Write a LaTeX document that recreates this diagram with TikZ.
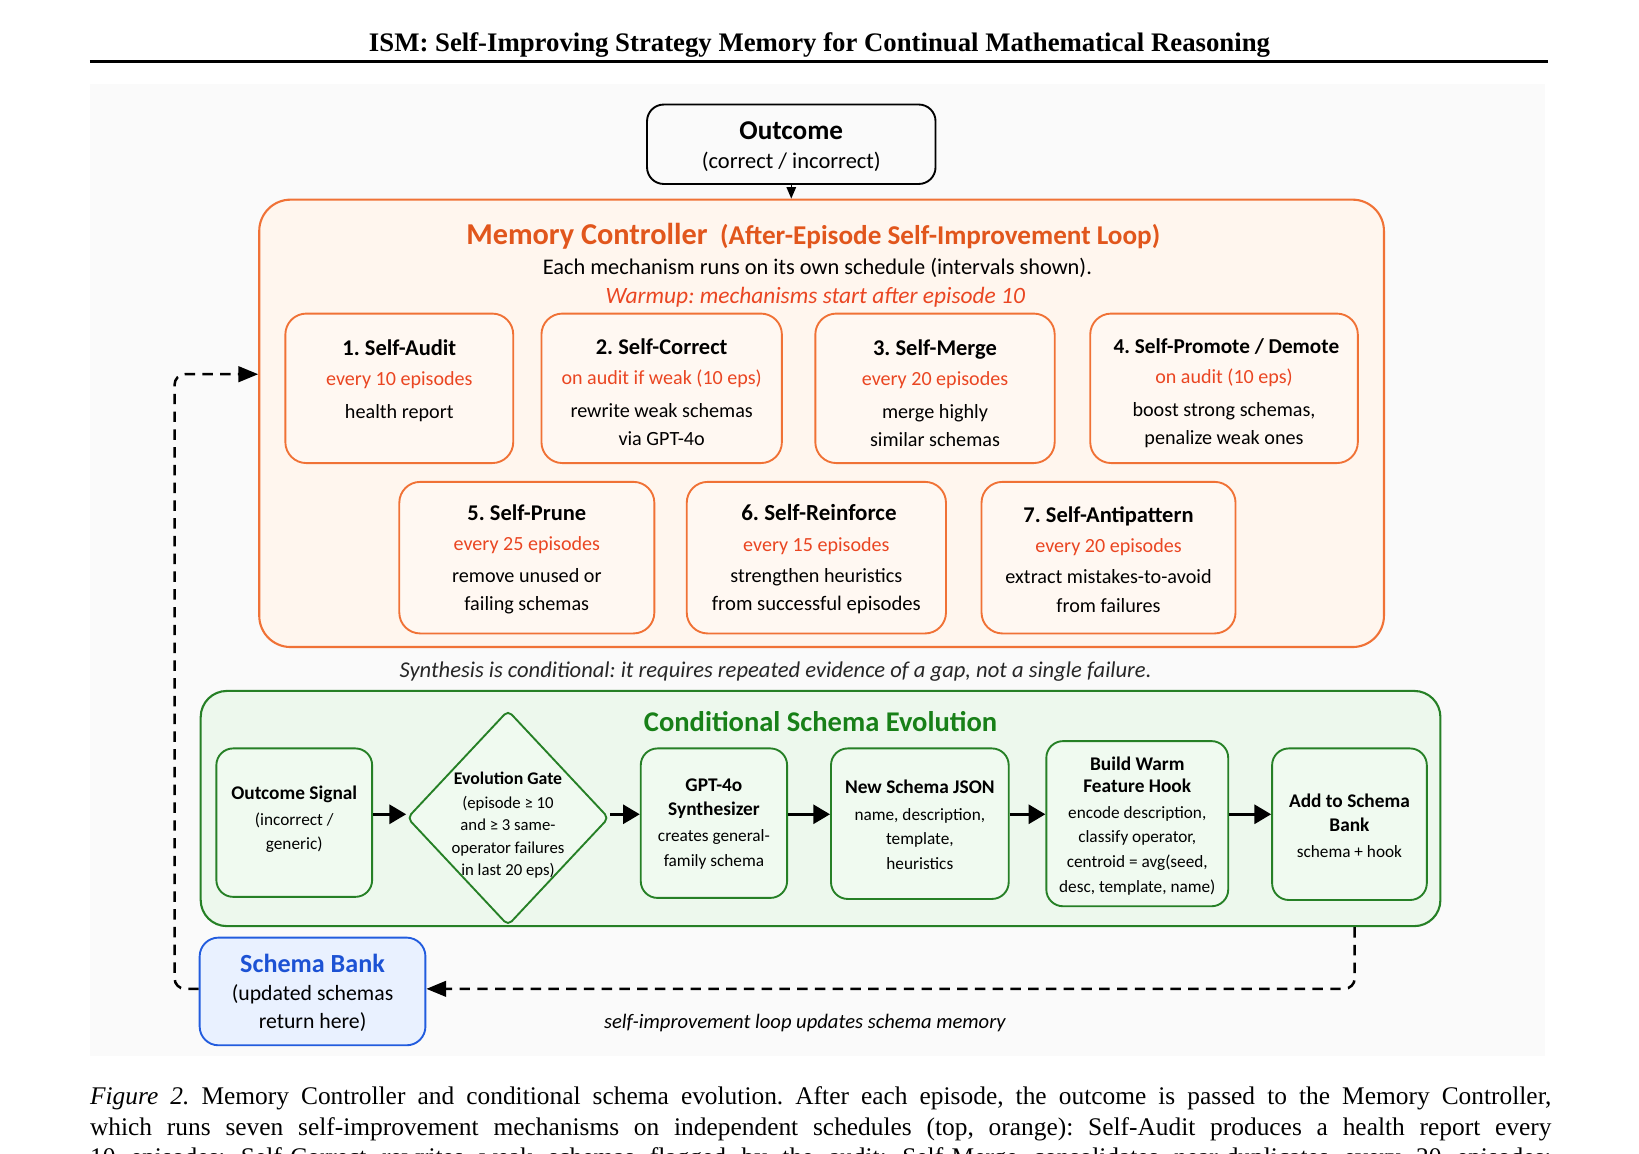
\documentclass[tikz,border=0pt]{standalone}
\usepackage{fontspec}
\setmainfont{Liberation Serif}
\newfontfamily\carl{Carlito}
\usetikzlibrary{shapes.geometric,arrows.meta}
\definecolor{obrd}{RGB}{240,114,54}
\definecolor{ofill}{RGB}{255,246,238}
\definecolor{ofill2}{RGB}{255,248,242}
\definecolor{otitle}{RGB}{225,86,28}
\definecolor{osched}{RGB}{234,70,34}
\definecolor{gbrd}{RGB}{38,128,38}
\definecolor{gfill}{RGB}{237,248,237}
\definecolor{gfill2}{RGB}{240,250,240}
\definecolor{gtitle}{RGB}{24,128,24}
\definecolor{bbrd}{RGB}{34,92,222}
\definecolor{bfill}{RGB}{233,241,255}
\definecolor{btitle}{RGB}{28,82,212}
\definecolor{pagebg}{RGB}{250,250,250}
\definecolor{outfill}{RGB}{250,250,250}
\newcommand\fsz[2]{\fontsize{#1}{#2}\selectfont}
\newcommand\mttl{\carl\bfseries\fsz{21.5}{27}}
\newcommand\msch{\carl\color{osched}\fsz{19.2}{27}}
\newcommand\mbdy{\carl\fsz{19.3}{27}}
\newcommand\gttl{\carl\bfseries\fsz{18.5}{23.5}}
\newcommand\gbdy{\carl\fsz{16.5}{23.5}}
\newcommand\dttl{\carl\bfseries\fsz{17}{21.5}}
\newcommand\dbdy{\carl\fsz{16}{21.5}}
\frenchspacing
\begin{document}
\begin{tikzpicture}[x=1pt,y=-1pt,
  mbox/.style={draw=obrd, line width=1.8pt, rounded corners=20pt, fill=ofill2, inner sep=0pt},
  mtext/.style={align=center, inner sep=0pt, font=\mbdy},
  gbox/.style={draw=gbrd, line width=1.8pt, rounded corners=16pt, fill=gfill2, inner sep=0pt},
  gtext/.style={align=center, inner sep=0pt, font=\gbdy},
  flow/.style={line width=3.2pt, -{Triangle[length=16pt,width=18pt]}},
  loopline/.style={line width=2.4pt, dash pattern=on 10pt off 7pt, rounded corners=10pt, -{Triangle[length=19pt,width=15pt]}},
]
\useasboundingbox (0,0) rectangle (1568,1103.1);
\fill[white] (0,0) rectangle (1568,1103.1);
\fill[pagebg] (86,80) rectangle (1478,1010);

% running head
\node[anchor=base, inner sep=0, font=\fsz{25.6}{30}\bfseries] (hdr) at (784,49) {ISM: Self-Improving Strategy Memory for Continual Mathematical Reasoning};
\draw[line width=3pt] (86,58.7) -- (1481,58.7);

% outcome
\node[draw=black, line width=1.8pt, rounded corners=16pt, fill=outfill, minimum width=276, minimum height=76, inner sep=0] (outcome) at (757,138) {};
\node[align=center, inner sep=0, font=\carl\fsz{21.5}{28}] (outcomet) at (757,140.5) {{\bfseries\fsz{26}{28}Outcome}\\(correct / incorrect)};

% memory controller
\node[draw=obrd, line width=2pt, rounded corners=30pt, fill=ofill, minimum width=1076, minimum height=428, inner sep=0] (mc) at (786,405) {};
\draw[line width=1.5pt, -{Triangle[length=11pt,width=9pt]}] (outcome.south) -- (outcome.south |- mc.north);
\node[anchor=base, inner sep=0, text=otitle, font=\carl\bfseries] (mctitle) at (778,233.5) {{\fsz{29}{34}Memory Controller}\hspace{12pt}{\fsz{26}{30}(After-Episode Self-Improvement Loop)}};
\node[anchor=base, inner sep=0, font=\carl\fsz{21.4}{26}] (mcsub) at (782,262.5) {Each mechanism runs on its own schedule (intervals shown).};
\node[anchor=base, inner sep=0, text=osched, font=\carl\itshape\fsz{22.4}{26}] (warm) at (780,290.5) {Warmup: mechanisms start after episode 10};

\node[mbox, minimum width=218, minimum height=143] (m1) at (382,371.5) {};
\node[mbox, minimum width=230, minimum height=143] (m2) at (633,371.5) {};
\node[mbox, minimum width=229, minimum height=143] (m3) at (894.5,371.5) {};
\node[mbox, minimum width=256, minimum height=143] (m4) at (1171,371.5) {};
\node[mbox, minimum width=244, minimum height=145] (m5) at (504,533.5) {};
\node[mbox, minimum width=248, minimum height=145] (m6) at (781,533.5) {};
\node[mbox, minimum width=243, minimum height=145] (m7) at (1060.5,533.5) {};

\node[mtext] (m1t) at (382,364.5) {{\mttl 1. Self-Audit}\\[1pt]{\msch every 10 episodes}\\[5pt]health report};
\node[mtext] (m2t) at (633,375.5) {{\mttl 2. Self-Correct}\\[1pt]{\msch on audit if weak (10 eps)}\\[5pt]rewrite weak schemas\\via GPT-4o};
\node[mtext] (m3t) at (894.5,376.5) {{\mttl 3. Self-Merge}\\[1pt]{\msch every 20 episodes}\\[5pt]merge highly\\similar schemas};
\node[mtext] (m4t) at (1171,376.5) {{\mttl\fsz{20.3}{27} 4. Self-Promote / Demote}\\[1pt]{\msch on audit (10 eps)}\\[5pt]boost strong schemas,\\penalize weak ones};
\node[mtext] (m5t) at (504,535) {{\mttl 5. Self-Prune}\\[2pt]{\msch every 25 episodes}\\[3pt]remove unused or\\failing schemas};
\node[mtext] (m6t) at (781,535) {{\mttl\fsz{22}{27} 6. Self-Reinforce}\\[2pt]{\msch every 15 episodes}\\[3pt]strengthen heuristics\\{\fsz{19.8}{27}from successful episodes}};
\node[mtext] (m7t) at (1060.5,535) {{\mttl 7. Self-Antipattern}\\[2pt]{\msch every 20 episodes}\\[3pt]extract mistakes-to-avoid\\from failures};

\node[anchor=base, inner sep=0, text=black!85, font=\carl\itshape\fsz{21.6}{24}] (synth) at (742,648) {Synthesis is conditional: it requires repeated evidence of a gap, not a single failure.};

% conditional schema evolution
\node[draw=gbrd, line width=2pt, rounded corners=25pt, fill=gfill, minimum width=1186, minimum height=225, inner sep=0] (ce) at (785,773.5) {};
\node[anchor=base, inner sep=0, text=gtitle, font=\carl\bfseries\fsz{27.3}{32}] (cetitle) at (785,700) {Conditional Schema Evolution};

\node[gbox, minimum width=149, minimum height=142] (os) at (281.5,787) {};
\node[diamond, draw=gbrd, line width=1.8pt, fill=gfill2, minimum width=193, minimum height=206, inner sep=0, rounded corners=5pt] (gate) at (486,782.5) {};
\node[gbox, minimum width=140, minimum height=143] (gpt) at (683,787.5) {};
\node[gbox, minimum width=170, minimum height=144] (nsj) at (880,788) {};
\node[gbox, minimum width=174, minimum height=158] (bwf) at (1088,788) {};
\node[gbox, minimum width=148, minimum height=145] (add) at (1291,788.5) {};

\node[gtext] (ost) at (281.5,784) {{\gttl Outcome Signal}\\[1pt](incorrect /\\generic)};
\node[align=center, inner sep=0, font=\dbdy] (gatet) at (486,789.5) {{\dttl Evolution Gate}\\[1.5pt](episode ≥ 10\\and ≥ 3 same-\\operator failures\\in last 20 eps)};
\node[gtext] (gptt) at (683,788) {{\gttl GPT-4o}\\{\gttl Synthesizer}\\[1pt]creates general-\\family schema};
\node[gtext] (nsjt) at (880,789) {{\gttl New Schema JSON}\\[2pt]name, description,\\template,\\heuristics};
\node[gtext] (bwft) at (1088,790) {{\gttl Build Warm}\\[-2pt]{\gttl Feature Hook}\\[1pt]encode description,\\classify operator,\\centroid = avg(seed,\\desc, template, name)};
\node[gtext] (addt) at (1291,790) {{\gttl Add to Schema}\\{\gttl Bank}\\[1pt]schema + hook};

\draw[flow] ([yshift=8pt]os.east) -- ([yshift=8pt]os.east -| gate.west);
\draw[flow] ([yshift=3.5pt]gate.east) -- ([yshift=3.5pt]gate.east -| gpt.west);
\draw[flow] ([yshift=8.5pt]gpt.east) -- ([yshift=8.5pt]gpt.east -| nsj.west);
\draw[flow] ([yshift=9pt]nsj.east) -- ([yshift=9pt]nsj.east -| bwf.west);
\draw[flow] ([yshift=9pt]bwf.east) -- ([yshift=9pt]bwf.east -| add.west);

% schema bank
\node[draw=bbrd, line width=1.8pt, rounded corners=18pt, fill=bfill, minimum width=216, minimum height=103, inner sep=0] (sb) at (299,948.5) {};
\node[align=center, inner sep=0, font=\carl\fsz{20.8}{27}] (sbt) at (299,950) {{\bfseries\color{btitle}\fsz{25}{27}Schema Bank}\\(updated schemas\\return here)};

% loop
\coordinate (lpr) at (1296,886);
\coordinate (lpl) at (167,358);
\draw[loopline] (ce.south -| lpr) |- ([yshift=2.5pt]sb.east);
\draw[loopline] ([yshift=2.5pt]sb.west) -| (lpl) -- (lpl -| mc.west);
\node[anchor=base, inner sep=0, font=\carl\itshape\fsz{19.7}{24}] (looplbl) at (770,984) {self-improvement loop updates schema memory};

% caption
\node[anchor=base west, inner sep=0, font=\fsz{24.3}{28}] (cap1) at (86,1057) {\makebox[1398pt][s]{\textit{Figure 2.} Memory Controller and conditional schema evolution. After each episode, the outcome is passed to the Memory Controller,}};
\node[anchor=base west, inner sep=0, font=\fsz{24.3}{28}] (cap2) at (86,1086) {\makebox[1398pt][s]{which runs seven self-improvement mechanisms on independent schedules (top, orange): Self-Audit produces a health report every}};
\node[anchor=base west, inner sep=0, font=\fsz{24.3}{28}] (cap3) at (86,1115) {\makebox[1398pt][s]{10 episodes; Self-Correct rewrites weak schemas flagged by the audit; Self-Merge consolidates near-duplicates every 20 episodes;}};
\end{tikzpicture}
\end{document}
